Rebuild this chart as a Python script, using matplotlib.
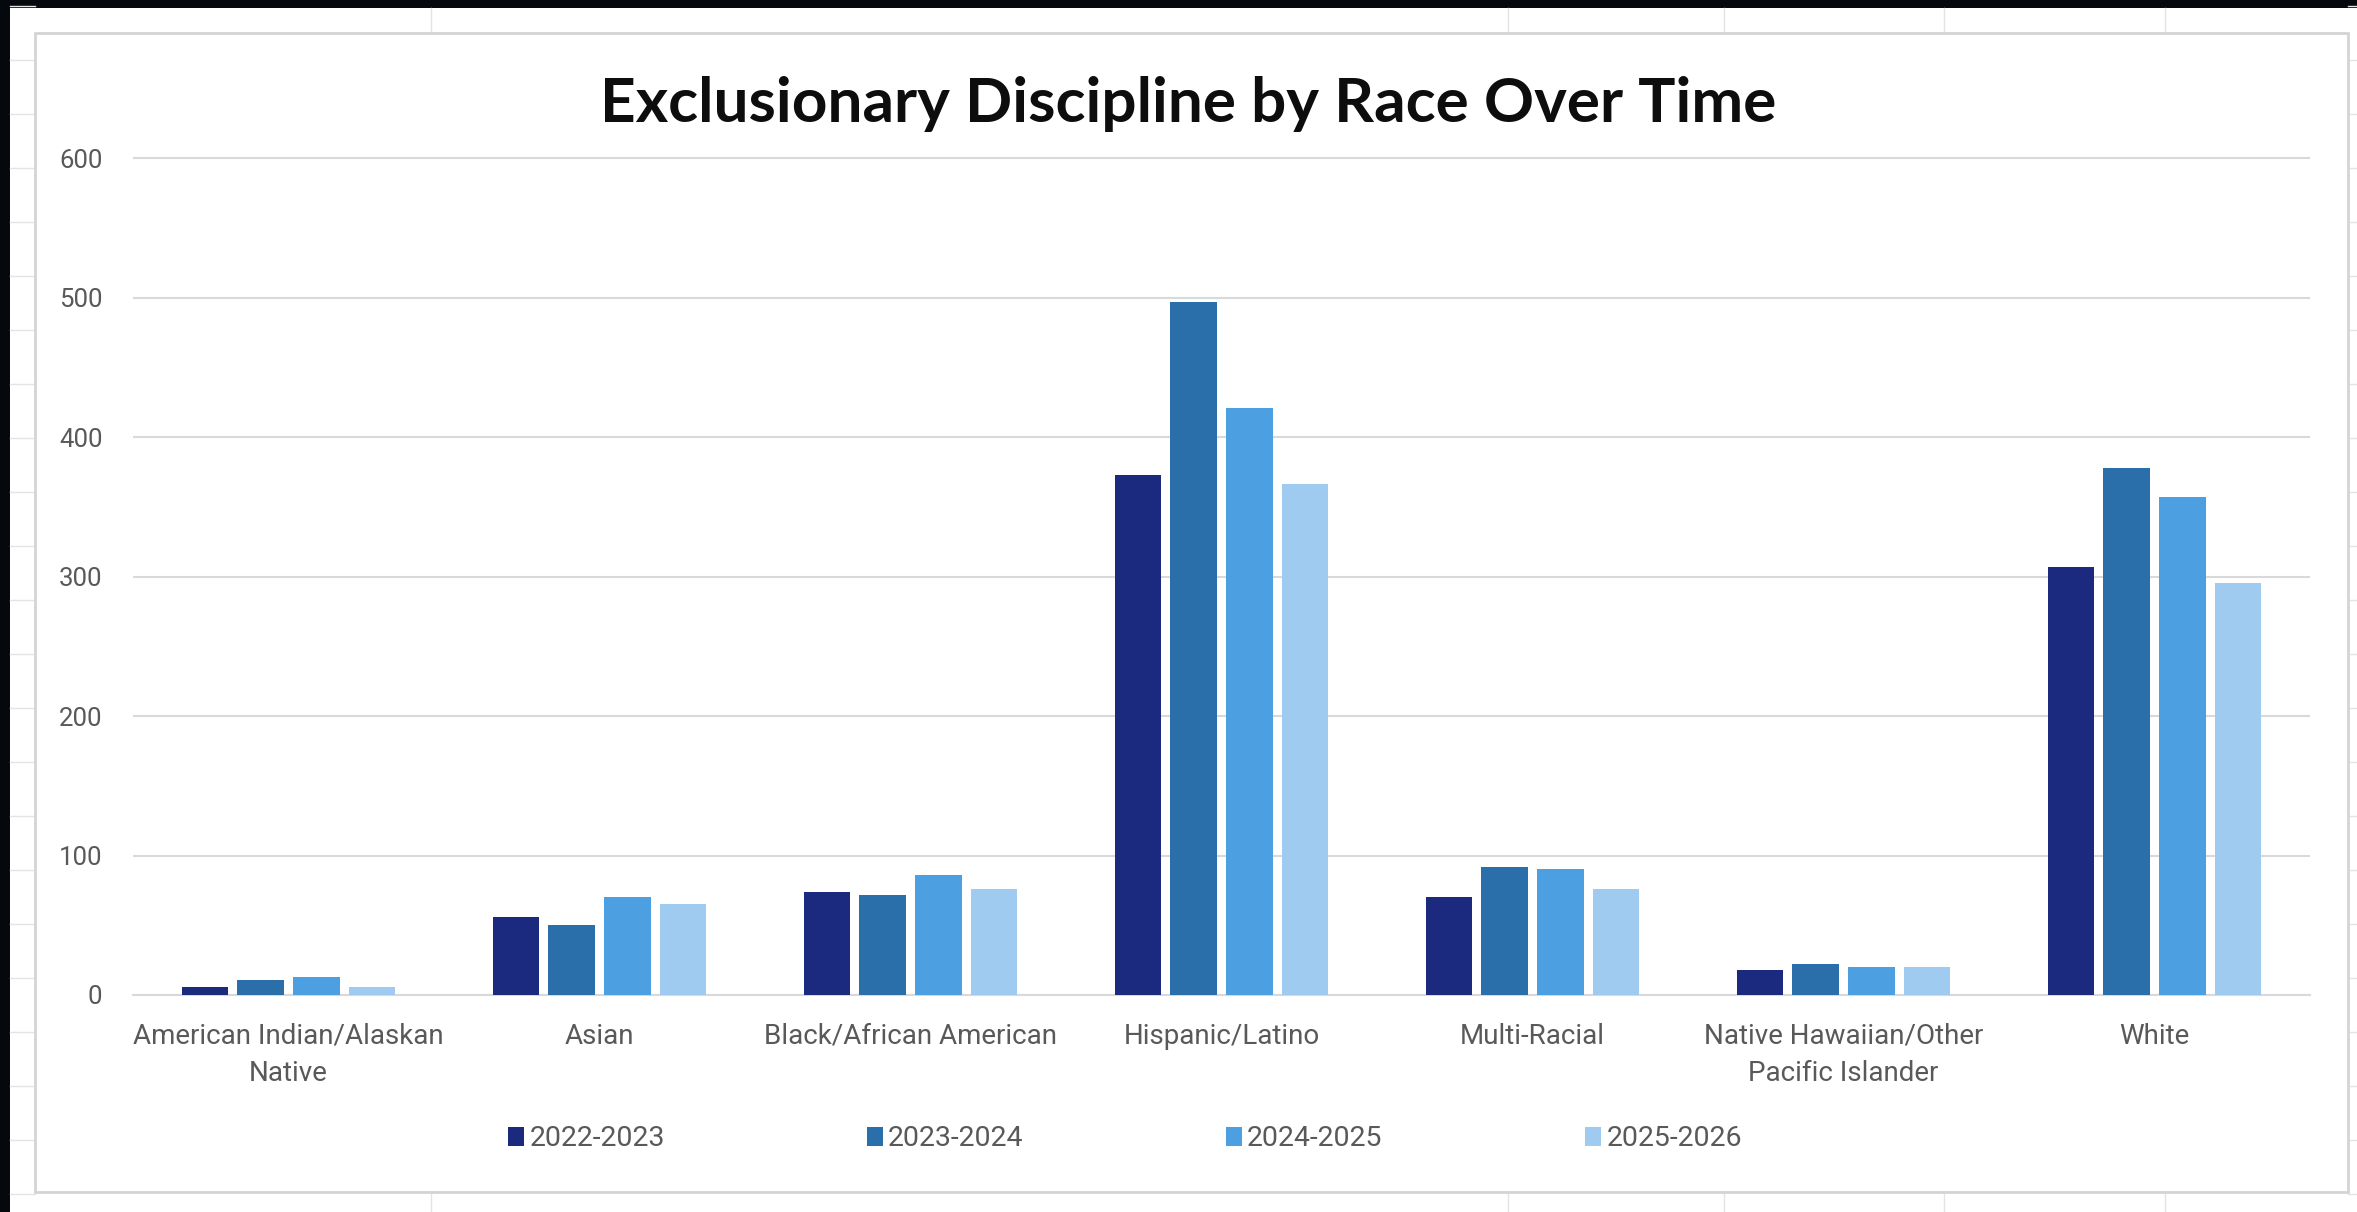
import matplotlib.pyplot as plt
import numpy as np
from matplotlib.lines import Line2D
from matplotlib.patches import Rectangle

categories = [
    "American Indian/Alaskan\nNative",
    "Asian",
    "Black/African American",
    "Hispanic/Latino",
    "Multi-Racial",
    "Native Hawaiian/Other\nPacific Islander",
    "White",
]
years = ["2022-2023", "2023-2024", "2024-2025", "2025-2026"]

y2022 = [6, 56, 74, 373, 70, 18, 307]
y2023 = [11, 50, 72, 497, 92, 22, 378]
y2024 = [13, 70, 86, 421, 90, 20, 357]
y2025 = [6, 65, 76, 366, 76, 20, 295]

colors = ["#1B2A7E", "#2A6EAA", "#4C9FE0", "#A0CBF0"]
grid_c = "#D9D9D9"
label_c = "#595959"

W, H = 2357, 1212
fig = plt.figure(figsize=(W / 100, H / 100), dpi=100)
fig.patch.set_facecolor("#05080C")


def px(x, y):
    # pixel (from top-left) -> figure fraction
    return x / W, 1 - y / H


# spreadsheet backdrop
fig.add_artist(Rectangle(px(10, H), (W - 10) / W, (H - 8) / H,
                         transform=fig.transFigure, facecolor="white",
                         edgecolor="none", zorder=0))
for yy in np.arange(6, H, 54):
    for x0, x1 in [(10, 35), (2348, W)]:
        fig.add_artist(Line2D([x0 / W, x1 / W], [1 - yy / H] * 2,
                              transform=fig.transFigure, color="#E4E4E4",
                              lw=1, zorder=0.5))
for xx in [431, 1508, 1724, 1944, 2165]:
    for y0, y1 in [(8, 33), (1192, H)]:
        fig.add_artist(Line2D([xx / W] * 2, [1 - y0 / H, 1 - y1 / H],
                              transform=fig.transFigure, color="#E4E4E4",
                              lw=1, zorder=0.5))

# chart area
fig.add_artist(Rectangle(px(35, 1192), (2348 - 35) / W, (1192 - 33) / H,
                         transform=fig.transFigure, facecolor="white",
                         edgecolor="#D4D4D4", lw=2, zorder=1))

left, right = 133, 2310
top_px, zero_px = 158, 995
ymax = 606
ppu = (zero_px - top_px) / 600
ax_top = zero_px - ymax * ppu
ax = fig.add_axes([left / W, 1 - zero_px / H, (right - left) / W,
                   (zero_px - ax_top) / H])
ax.set_zorder(2)
ax.patch.set_visible(False)

x = np.arange(len(categories))
slot = 0.179
width = 0.151
for j, (vals, c, lab) in enumerate(zip([y2022, y2023, y2024, y2025], colors, years)):
    ax.bar(x + (j - 1.5) * slot, vals, width, color=c, label=lab, zorder=3)

ax.set_xlim(-0.5, len(categories) - 0.5)
ax.set_ylim(0, ymax)
ax.set_yticks(range(0, 601, 100))
ax.grid(axis="y", color=grid_c, lw=1.5)
ax.set_axisbelow(True)
for s in ["top", "right", "left"]:
    ax.spines[s].set_visible(False)
ax.spines["bottom"].set_color(grid_c)
ax.spines["bottom"].set_linewidth(1.5)

ax.set_xticks(x)
ax.set_xticklabels(categories, family="Roboto", fontsize=20, color=label_c,
                   linespacing=1.5)
ax.tick_params(axis="x", length=0, pad=20)
ax.tick_params(axis="y", length=0, pad=22, labelsize=18.5, labelcolor=label_c)
for t in ax.get_yticklabels():
    t.set_family("Roboto")

fig.text(1188 / W, 1 - 122 / H, "Exclusionary Discipline by Race Over Time",
         family="Lato", fontweight="bold", fontsize=44.7, ha="center",
         va="baseline", color="#0D0D0D")

handles, labels = ax.get_legend_handles_labels()
fig.legend(handles, labels, loc="center left",
           bbox_to_anchor=(508 / W, 1 - 1139 / H), ncol=4, frameon=False,
           prop={"family": "Roboto", "size": 20.5}, labelcolor=label_c,
           handlelength=0.55, handleheight=0.6, handletextpad=0.2,
           columnspacing=7.1, borderpad=0, borderaxespad=0)

fig.savefig("out.png", dpi=100, facecolor=fig.get_facecolor())
